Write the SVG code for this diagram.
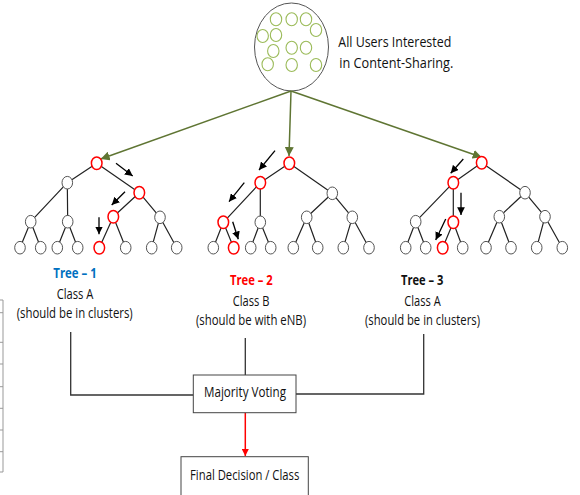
<svg xmlns="http://www.w3.org/2000/svg" width="580" height="495" viewBox="0 0 580 495">
<defs>
<style>
.t{font-family:"Open Sans","Liberation Sans",sans-serif;font-size:14px;fill:#111}
.b{font-weight:bold}
.n{fill:#fff;stroke:#555;stroke-width:1}
.r{fill:#fff;stroke:#f00;stroke-width:1.5}
.e{stroke:#222;stroke-width:1.2;fill:none}
.u{fill:none;stroke:#9bbb59;stroke-width:1.1}
.g{stroke:#5f7533;stroke-width:1.5;fill:none;marker-end:url(#ga)}
.k{stroke:#000;stroke-width:1.3;fill:none;marker-end:url(#ka)}
.c{stroke:#333;stroke-width:1.3;fill:none}
</style>
<marker id="ga" viewBox="0 0 10 10" refX="10" refY="5" markerWidth="6" markerHeight="6" orient="auto" markerUnits="strokeWidth"><path d="M0,0L10,5L0,10z" fill="#5f7533"/></marker>
<marker id="ka" viewBox="0 0 10 10" refX="10" refY="5" markerWidth="6" markerHeight="6" orient="auto" markerUnits="strokeWidth"><path d="M0,0L10,5L0,10z" fill="#000"/></marker>
<marker id="ra" viewBox="0 0 10 10" refX="10" refY="5" markerWidth="5" markerHeight="5" orient="auto" markerUnits="strokeWidth"><path d="M0,0L10,5L0,10z" fill="#f00"/></marker>
</defs>
<rect width="580" height="495" fill="#fff"/>

<g id="edge-artifact" stroke="#999" stroke-width="1" fill="none">
<path d="M0,300H3V472H0M0,312.7H3M0,342.3H3M0,364H3M0,386.7H3M0,408.3H3M0,430H3M0,451.7H3"/>
</g>

<g id="users">
<ellipse cx="291.5" cy="47" rx="37" ry="44" fill="#fff" stroke="#555" stroke-width="1"/>
<ellipse class="u" cx="276" cy="19.3" rx="5.7" ry="6.5"/>
<ellipse class="u" cx="291.7" cy="19.3" rx="5.7" ry="6.5"/>
<ellipse class="u" cx="306" cy="19.3" rx="5.7" ry="6.5"/>
<ellipse class="u" cx="316" cy="30" rx="5.7" ry="6.5"/>
<ellipse class="u" cx="262.7" cy="36" rx="5.7" ry="6.5"/>
<ellipse class="u" cx="276" cy="35" rx="5.7" ry="6.5"/>
<ellipse class="u" cx="273.3" cy="51" rx="5.7" ry="6.5"/>
<ellipse class="u" cx="291.7" cy="47.7" rx="5.7" ry="6.5"/>
<ellipse class="u" cx="306" cy="47.7" rx="5.7" ry="6.5"/>
<ellipse class="u" cx="267.7" cy="64.3" rx="5.7" ry="6.5"/>
<ellipse class="u" cx="291.7" cy="65" rx="5.7" ry="6.5"/>
<ellipse class="u" cx="316" cy="65" rx="5.7" ry="6.5"/>
<text class="t" x="338.3" y="47" textLength="113" lengthAdjust="spacingAndGlyphs">All Users Interested</text>
<text class="t" x="339.3" y="68" textLength="114" lengthAdjust="spacingAndGlyphs">in Content-Sharing.</text>
</g>

<g id="connectors">
<path class="g" d="M291,91L100.7,159"/>
<path class="g" d="M291,91L289,156"/>
<path class="g" d="M291,91L481.7,157.3"/>
<path class="c" d="M70.7,332V395H193.3"/>
<path class="c" d="M245.3,338V375"/>
<path class="c" d="M423.7,334V394H296"/>
<path d="M245.3,412.7V456" stroke="#f00" stroke-width="1.5" fill="none" marker-end="url(#ra)"/>
</g>

<g id="tree1">
<path class="e" d="M96.7,163.3L67.3,182.7M96.7,163.3L139.3,192.7M67.3,182.7L30.7,221.7M67.3,182.7L67.7,221.7M139.3,192.7L113.3,216.7M139.3,192.7L160,217.3M30.7,221.7L20,247.7M30.7,221.7L40.7,247.7M67.7,221.7L57.3,247.7M67.7,221.7L77.7,247.7M113.3,216.7L99.3,247.7M113.3,216.7L125.7,247.7M160,217.3L151.7,247.7M160,217.3L176.7,247.7"/>
<ellipse class="r" cx="96.7" cy="163.3" rx="5.3" ry="6.3"/>
<ellipse class="n" cx="67.3" cy="182.7" rx="5.3" ry="6.3"/>
<ellipse class="r" cx="139.3" cy="192.7" rx="5.3" ry="6.3"/>
<ellipse class="n" cx="30.7" cy="221.7" rx="5.3" ry="6.3"/>
<ellipse class="n" cx="67.7" cy="221.7" rx="5.3" ry="6.3"/>
<ellipse class="r" cx="113.3" cy="216.7" rx="5.3" ry="6.3"/>
<ellipse class="n" cx="160" cy="217.3" rx="5.3" ry="6.3"/>
<ellipse class="n" cx="20" cy="247.7" rx="5.3" ry="6.3"/>
<ellipse class="n" cx="40.7" cy="247.7" rx="5.3" ry="6.3"/>
<ellipse class="n" cx="57.3" cy="247.7" rx="5.3" ry="6.3"/>
<ellipse class="n" cx="77.7" cy="247.7" rx="5.3" ry="6.3"/>
<ellipse class="r" cx="99.3" cy="247.7" rx="5.3" ry="6.3"/>
<ellipse class="n" cx="125.7" cy="247.7" rx="5.3" ry="6.3"/>
<ellipse class="n" cx="151.7" cy="247.7" rx="5.3" ry="6.3"/>
<ellipse class="n" cx="176.7" cy="247.7" rx="5.3" ry="6.3"/>
<path class="k" d="M116,163.3L132.7,176"/>
<path class="k" d="M125,191.7L111.7,205"/>
<path class="k" d="M99,217.3V234.3"/>
<text class="t b" x="75" y="278.3" text-anchor="middle" fill="#0070c0" style="fill:#0070c0" textLength="43.4" lengthAdjust="spacingAndGlyphs">Tree – 1</text>
<text class="t" x="75" y="299" text-anchor="middle" textLength="36.7" lengthAdjust="spacingAndGlyphs">Class A</text>
<text class="t" x="74.7" y="317.5" text-anchor="middle" textLength="116" lengthAdjust="spacingAndGlyphs">(should be in clusters)</text>
</g>

<g id="tree2">
<path class="e" d="M289.3,163.3L260.3,182.7M289.3,163.3L332.3,193.3M260.3,182.7L223.3,222.3M260.3,182.7L260.3,222.3M332.3,193.3L306.7,217.3M332.3,193.3L352.3,217.3M223.3,222.3L213.3,247.7M223.3,222.3L233.7,247.7M260.3,222.3L250.7,247.7M260.3,222.3L270.7,247.7M306.7,217.3L293.3,247.7M306.7,217.3L317.7,247.7M352.3,217.3L343.3,247.7M352.3,217.3L369,247.7"/>
<ellipse class="r" cx="289.3" cy="163.3" rx="5.3" ry="6.3"/>
<ellipse class="r" cx="260.3" cy="182.7" rx="5.3" ry="6.3"/>
<ellipse class="n" cx="332.3" cy="193.3" rx="5.3" ry="6.3"/>
<ellipse class="r" cx="223.3" cy="222.3" rx="5.3" ry="6.3"/>
<ellipse class="n" cx="260.3" cy="222.3" rx="5.3" ry="6.3"/>
<ellipse class="n" cx="306.7" cy="217.3" rx="5.3" ry="6.3"/>
<ellipse class="n" cx="352.3" cy="217.3" rx="5.3" ry="6.3"/>
<ellipse class="n" cx="213.3" cy="247.7" rx="5.3" ry="6.3"/>
<ellipse class="r" cx="233.7" cy="247.7" rx="5.3" ry="6.3"/>
<ellipse class="n" cx="250.7" cy="247.7" rx="5.3" ry="6.3"/>
<ellipse class="n" cx="270.7" cy="247.7" rx="5.3" ry="6.3"/>
<ellipse class="n" cx="293.3" cy="247.7" rx="5.3" ry="6.3"/>
<ellipse class="n" cx="317.7" cy="247.7" rx="5.3" ry="6.3"/>
<ellipse class="n" cx="343.3" cy="247.7" rx="5.3" ry="6.3"/>
<ellipse class="n" cx="369" cy="247.7" rx="5.3" ry="6.3"/>
<path class="k" d="M275,150.7L259,170"/>
<path class="k" d="M244.3,182.7L229,201.7"/>
<path class="k" d="M232.7,221.7L238.3,239.3"/>
<text class="t b" x="251.3" y="285" text-anchor="middle" style="fill:#f00" textLength="42.7" lengthAdjust="spacingAndGlyphs">Tree – 2</text>
<text class="t" x="251" y="305.7" text-anchor="middle" textLength="36.7" lengthAdjust="spacingAndGlyphs">Class B</text>
<text class="t" x="251" y="324.5" text-anchor="middle" textLength="110" lengthAdjust="spacingAndGlyphs">(should be with eNB)</text>
</g>

<g id="tree3">
<path class="e" d="M481.7,162.7L453.3,182.7M481.7,162.7L525,192.7M453.3,182.7L415.7,221.7M453.3,182.7L453.3,222.3M525,192.7L499.3,216.7M525,192.7L545,216.7M415.7,221.7L405.7,247.7M415.7,221.7L425.7,247.7M453.3,222.3L442.7,247.7M453.3,222.3L462.7,247.7M499.3,216.7L486,247.7M499.3,216.7L511,247.7M545,216.7L536.7,247.7M545,216.7L562.3,247.7"/>
<ellipse class="r" cx="481.7" cy="162.7" rx="5.3" ry="6.3"/>
<ellipse class="r" cx="453.3" cy="182.7" rx="5.3" ry="6.3"/>
<ellipse class="n" cx="525" cy="192.7" rx="5.3" ry="6.3"/>
<ellipse class="n" cx="415.7" cy="221.7" rx="5.3" ry="6.3"/>
<ellipse class="r" cx="453.3" cy="222.3" rx="5.3" ry="6.3"/>
<ellipse class="n" cx="499.3" cy="216.7" rx="5.3" ry="6.3"/>
<ellipse class="n" cx="545" cy="216.7" rx="5.3" ry="6.3"/>
<ellipse class="n" cx="405.7" cy="247.7" rx="5.3" ry="6.3"/>
<ellipse class="n" cx="425.7" cy="247.7" rx="5.3" ry="6.3"/>
<ellipse class="r" cx="442.7" cy="247.7" rx="5.3" ry="6.3"/>
<ellipse class="n" cx="462.7" cy="247.7" rx="5.3" ry="6.3"/>
<ellipse class="n" cx="486" cy="247.7" rx="5.3" ry="6.3"/>
<ellipse class="n" cx="511" cy="247.7" rx="5.3" ry="6.3"/>
<ellipse class="n" cx="536.7" cy="247.7" rx="5.3" ry="6.3"/>
<ellipse class="n" cx="562.3" cy="247.7" rx="5.3" ry="6.3"/>
<path class="k" d="M463.3,159L450.7,173.3"/>
<path class="k" d="M461,192.7V215"/>
<path class="k" d="M445.7,219L435.7,240"/>
<text class="t b" x="422.2" y="285" text-anchor="middle" textLength="42.3" lengthAdjust="spacingAndGlyphs">Tree – 3</text>
<text class="t" x="422.5" y="305.7" text-anchor="middle" textLength="36.4" lengthAdjust="spacingAndGlyphs">Class A</text>
<text class="t" x="422.5" y="324.5" text-anchor="middle" textLength="115" lengthAdjust="spacingAndGlyphs">(should be in clusters)</text>
</g>

<g id="majority">
<rect x="193.3" y="375" width="102.7" height="37.7" fill="#fff" stroke="#444" stroke-width="1"/>
<text class="t" x="245" y="397" text-anchor="middle" textLength="82" lengthAdjust="spacingAndGlyphs">Majority Voting</text>
</g>

<g id="final">
<rect x="181" y="456.7" width="127.3" height="45" fill="#fff" stroke="#444" stroke-width="1"/>
<text class="t" x="244.7" y="480" text-anchor="middle" textLength="109.3" lengthAdjust="spacingAndGlyphs">Final Decision / Class</text>
</g>
</svg>
